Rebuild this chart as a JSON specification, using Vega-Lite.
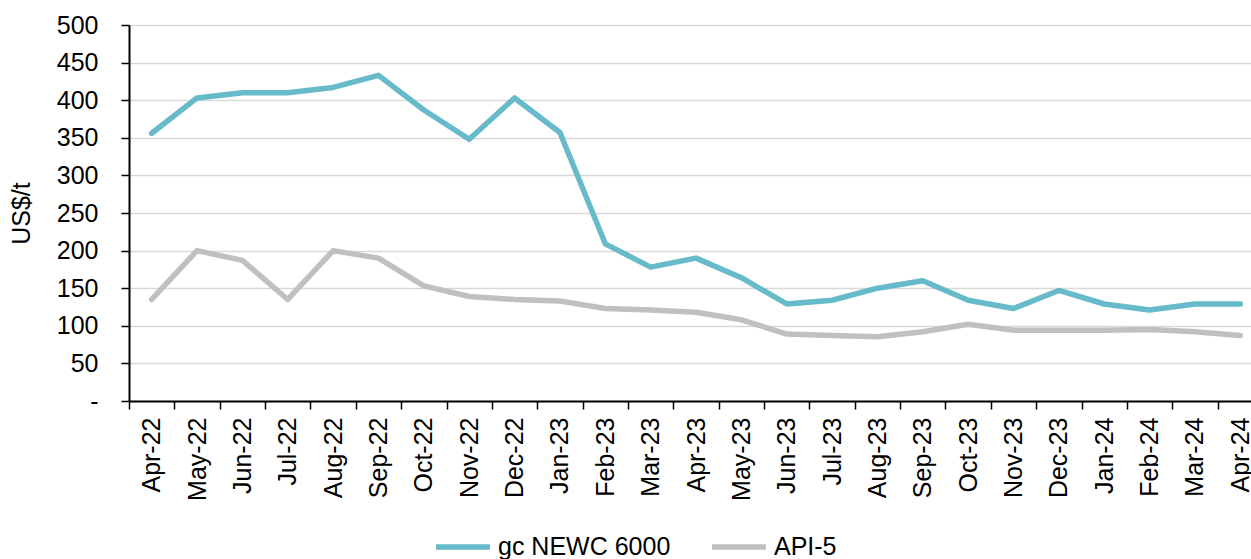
{
  "$schema": "https://vega.github.io/schema/vega-lite/v6.json",
  "autosize": "none",
  "width": 1134,
  "height": 376,
  "padding": {"left": 129, "top": 25, "right": 0, "bottom": 158},
  "background": "white",
  "config": {
    "font": "Liberation Sans",
    "view": {"stroke": null},
    "axis": {"labelFont": "Liberation Sans", "titleFont": "Liberation Sans", "labelColor": "black", "titleColor": "black"}
  },
  "data": {
    "values": [
      {"month": "Apr-22", "series": "gc NEWC 6000", "price": 356},
      {"month": "May-22", "series": "gc NEWC 6000", "price": 403},
      {"month": "Jun-22", "series": "gc NEWC 6000", "price": 410},
      {"month": "Jul-22", "series": "gc NEWC 6000", "price": 410},
      {"month": "Aug-22", "series": "gc NEWC 6000", "price": 417},
      {"month": "Sep-22", "series": "gc NEWC 6000", "price": 433},
      {"month": "Oct-22", "series": "gc NEWC 6000", "price": 387},
      {"month": "Nov-22", "series": "gc NEWC 6000", "price": 348},
      {"month": "Dec-22", "series": "gc NEWC 6000", "price": 403},
      {"month": "Jan-23", "series": "gc NEWC 6000", "price": 357},
      {"month": "Feb-23", "series": "gc NEWC 6000", "price": 209},
      {"month": "Mar-23", "series": "gc NEWC 6000", "price": 178},
      {"month": "Apr-23", "series": "gc NEWC 6000", "price": 190},
      {"month": "May-23", "series": "gc NEWC 6000", "price": 164},
      {"month": "Jun-23", "series": "gc NEWC 6000", "price": 129},
      {"month": "Jul-23", "series": "gc NEWC 6000", "price": 134},
      {"month": "Aug-23", "series": "gc NEWC 6000", "price": 150},
      {"month": "Sep-23", "series": "gc NEWC 6000", "price": 160},
      {"month": "Oct-23", "series": "gc NEWC 6000", "price": 134},
      {"month": "Nov-23", "series": "gc NEWC 6000", "price": 123},
      {"month": "Dec-23", "series": "gc NEWC 6000", "price": 147},
      {"month": "Jan-24", "series": "gc NEWC 6000", "price": 129},
      {"month": "Feb-24", "series": "gc NEWC 6000", "price": 121},
      {"month": "Mar-24", "series": "gc NEWC 6000", "price": 129},
      {"month": "Apr-24", "series": "gc NEWC 6000", "price": 129},
      {"month": "Apr-22", "series": "API-5", "price": 135},
      {"month": "May-22", "series": "API-5", "price": 200},
      {"month": "Jun-22", "series": "API-5", "price": 187},
      {"month": "Jul-22", "series": "API-5", "price": 135},
      {"month": "Aug-22", "series": "API-5", "price": 200},
      {"month": "Sep-22", "series": "API-5", "price": 190},
      {"month": "Oct-22", "series": "API-5", "price": 153},
      {"month": "Nov-22", "series": "API-5", "price": 139},
      {"month": "Dec-22", "series": "API-5", "price": 135},
      {"month": "Jan-23", "series": "API-5", "price": 133},
      {"month": "Feb-23", "series": "API-5", "price": 123},
      {"month": "Mar-23", "series": "API-5", "price": 121},
      {"month": "Apr-23", "series": "API-5", "price": 118},
      {"month": "May-23", "series": "API-5", "price": 108},
      {"month": "Jun-23", "series": "API-5", "price": 89},
      {"month": "Jul-23", "series": "API-5", "price": 87},
      {"month": "Aug-23", "series": "API-5", "price": 85.5},
      {"month": "Sep-23", "series": "API-5", "price": 92},
      {"month": "Oct-23", "series": "API-5", "price": 102},
      {"month": "Nov-23", "series": "API-5", "price": 94},
      {"month": "Dec-23", "series": "API-5", "price": 94},
      {"month": "Jan-24", "series": "API-5", "price": 94},
      {"month": "Feb-24", "series": "API-5", "price": 95},
      {"month": "Mar-24", "series": "API-5", "price": 92},
      {"month": "Apr-24", "series": "API-5", "price": 87}
    ]
  },
  "mark": {"type": "line", "strokeWidth": 5.5, "strokeCap": "round", "strokeJoin": "round"},
  "encoding": {
    "x": {
      "field": "month",
      "type": "ordinal",
      "sort": null,
      "bandPosition": 0.5,
      "scale": {"type": "band", "paddingInner": 0, "paddingOuter": 0},
      "axis": {
        "title": null,
        "labelAngle": -90,
        "labelFontSize": 25,
        "labelPadding": 8,
        "tickBand": "extent",
        "ticks": true,
        "tickSize": 8,
        "tickColor": "black",
        "tickWidth": 1.5,
        "domainColor": "black",
        "domainWidth": 2,
        "grid": false
      }
    },
    "y": {
      "field": "price",
      "type": "quantitative",
      "scale": {"domain": [0, 500], "nice": false, "zero": true},
      "axis": {
        "title": "US$/t",
        "titleFontSize": 25,
        "titleFontWeight": "normal",
        "titlePadding": 22,
        "values": [0, 50, 100, 150, 200, 250, 300, 350, 400, 450, 500],
        "labelExpr": "datum.value == 0 ? '-' : datum.label",
        "labelFontSize": 25,
        "labelPadding": 23,
        "tickSize": 8,
        "tickColor": "black",
        "tickWidth": 1.5,
        "domainColor": "black",
        "domainWidth": 2,
        "grid": true,
        "gridColor": "#D9D9D9",
        "gridWidth": 1.5
      }
    },
    "color": {
      "field": "series",
      "type": "nominal",
      "scale": {"domain": ["gc NEWC 6000", "API-5"], "range": ["#66BAC9", "#C0C0C0"]},
      "legend": {
        "title": null,
        "orient": "none",
        "direction": "horizontal",
        "legendX": 304,
        "legendY": 492,
        "symbolType": "stroke",
        "symbolStrokeWidth": 5.5,
        "symbolSize": 2900,
        "labelFontSize": 25,
        "labelColor": "black",
        "labelOffset": 5,
        "labelLimit": 400,
        "columnPadding": 30
      }
    }
  }
}
